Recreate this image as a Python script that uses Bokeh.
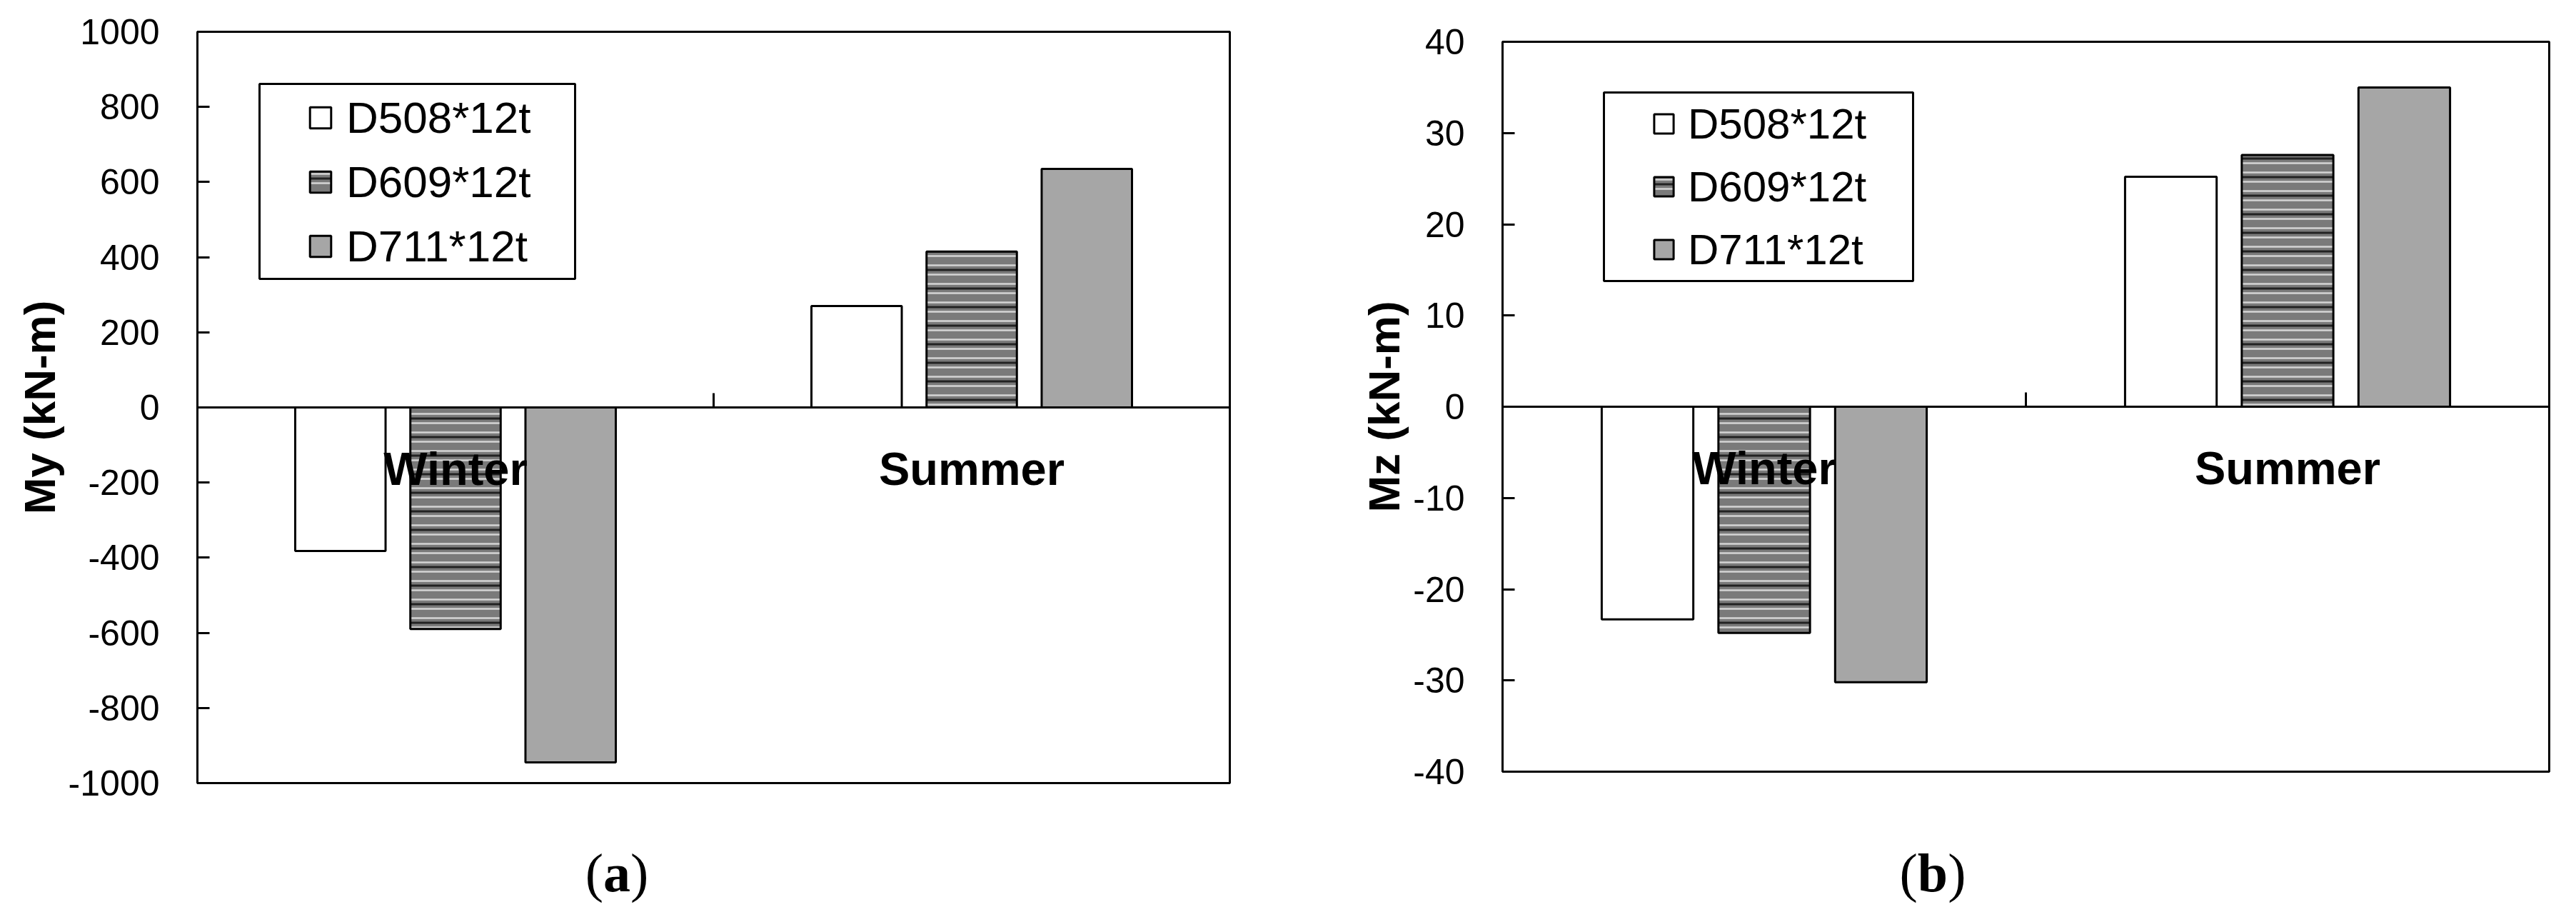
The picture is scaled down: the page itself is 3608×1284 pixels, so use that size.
from bokeh.plotting import figure
from bokeh.models import (FixedTicker, Legend, LegendItem, BoxAnnotation, LabelSet,
                          Range1d, ColumnDataSource, Div)
from bokeh.core.properties import value
from bokeh.layouts import row, column
from bokeh.embed import file_html
from bokeh.resources import INLINE

# ---------------- data ----------------
seasons = ["Winter", "Summer"]
series_names = ["D508*12t", "D609*12t", "D711*12t"]

my_d508 = [-382, 270]
my_d609 = [-590, 415]
my_d711 = [-945, 635]

mz_d508 = [-23.3, 25.2]
mz_d609 = [-24.8, 27.6]
mz_d711 = [-30.2, 35.0]

my_ticks = [-1000, -800, -600, -400, -200, 0, 200, 400, 600, 800, 1000]
my_tick_labels = ["-1000", "-800", "-600", "-400", "-200", "0", "200", "400", "600", "800", "1000"]
mz_ticks = [-40, -30, -20, -10, 0, 10, 20, 30, 40]
mz_tick_labels = ["-40", "-30", "-20", "-10", "0", "10", "20", "30", "40"]

SANS = "Liberation Sans"
SERIF = "Liberation Serif"
BAR_W = 0.175
OFFSETS = [-0.223, 0.0, 0.223]


def make_panel(values, ticks, tick_labels, ylabel, caption, g):
    p = figure(width=g["w"], height=g["h"],
               x_range=Range1d(0, len(seasons)),
               y_range=Range1d(ticks[0], ticks[-1]),
               output_backend="svg", toolbar_location=None,
               min_border_left=g["ml"], min_border_right=g["mr"],
               min_border_top=g["mt"], min_border_bottom=g["mb"])
    p.xgrid.visible = False
    p.ygrid.visible = False
    p.outline_line_color = "black"
    p.outline_line_width = 3
    p.background_fill_color = "white"
    p.border_fill_color = "white"

    centers = [i + 0.5 for i in range(len(seasons))]
    xs = [[c + off for c in centers] for off in OFFSETS]

    r1 = p.vbar(x=xs[0], top=values[0], bottom=0, width=BAR_W,
                fill_color="white", line_color="black", line_width=3)
    r2a = p.vbar(x=xs[1], top=values[1], bottom=0, width=BAR_W,
                 fill_color="#7a7a7a", line_color=None,
                 hatch_pattern="horizontal_line", hatch_color="#222222",
                 hatch_scale=26, hatch_weight=3)
    r2b = p.vbar(x=xs[1], top=values[1], bottom=0, width=BAR_W,
                 fill_alpha=0, line_color="black", line_width=3,
                 hatch_pattern="horizontal_line", hatch_color="#d4d4d4",
                 hatch_scale=13, hatch_weight=2.5)
    r3 = p.vbar(x=xs[2], top=values[2], bottom=0, width=BAR_W,
                fill_color="#a6a6a6", line_color="black", line_width=3)

    # y axis
    ya = p.yaxis[0]
    ya.ticker = FixedTicker(ticks=ticks)
    ya.major_label_overrides = {t: s for t, s in zip(ticks, tick_labels)}
    ya.major_label_text_font = SANS
    ya.major_label_text_font_size = "50px"
    ya.major_label_text_color = "black"
    ya.major_label_standoff = 53
    ya.major_tick_in = 17
    ya.major_tick_out = 0
    ya.major_tick_line_width = 3
    ya.major_tick_line_color = "black"
    ya.minor_tick_line_color = None
    ya.axis_line_width = 3
    ya.axis_line_color = "black"
    ya.axis_label = ylabel
    ya.axis_label_text_font = SANS
    ya.axis_label_text_font_style = "bold"
    ya.axis_label_text_font_size = "62px"
    ya.axis_label_text_color = "black"
    ya.axis_label_standoff = 3

    # x axis line crossing at zero, with a tick between the categories
    xa = p.xaxis[0]
    xa.fixed_location = 0
    xa.ticker = FixedTicker(ticks=[], minor_ticks=[1.0])
    xa.major_tick_in = 0
    xa.major_tick_out = 0
    xa.major_label_standoff = 0
    xa.minor_tick_in = 20
    xa.minor_tick_out = 0
    xa.minor_tick_line_width = 3
    xa.minor_tick_line_color = "black"
    xa.axis_line_width = 3
    xa.axis_line_color = "black"

    # category labels next to the zero line
    cat_src = ColumnDataSource(data=dict(x=centers, y=[0] * len(seasons), text=seasons))
    p.add_layout(LabelSet(x="x", y="y", text="text", source=cat_src, y_offset=-49,
                          text_font=value(SANS), text_font_style="bold",
                          text_font_size=value("65px"),
                          text_align="center", text_baseline="top", text_color="black"))

    # legend frame
    box = BoxAnnotation(left=g["bl"], right=g["br"], top=g["bt"], bottom=g["bb"],
                        left_units="canvas", right_units="canvas",
                        top_units="canvas", bottom_units="canvas",
                        fill_color="white", fill_alpha=1.0,
                        line_color="black", line_width=3, line_alpha=1.0)
    p.add_layout(box)

    legend = Legend(items=[LegendItem(label=series_names[0], renderers=[r1]),
                           LegendItem(label=series_names[1], renderers=[r2a, r2b]),
                           LegendItem(label=series_names[2], renderers=[r3])],
                    location=g["lloc"], orientation="vertical",
                    padding=0, margin=0, spacing=g["lsp"],
                    glyph_width=g["gw"], glyph_height=g["gw"],
                    label_height=g["lh"], label_standoff=g["ls"],
                    label_text_font=SANS, label_text_font_size=g["lfs"],
                    label_text_color="black",
                    border_line_alpha=0, background_fill_alpha=0)
    p.add_layout(legend)

    # caption "(a)" below the chart
    shift = g["cx"] - g["w"] / 2
    cap = Div(text=(f'<div style="position:relative; left:{shift:.0f}px; width:{g["w"]}px; '
                    f'text-align:center; font-family:\'{SERIF}\'; font-size:76px; '
                    f'line-height:100px; color:black; white-space:nowrap;">'
                    f'(<b>{caption}</b>)</div>'),
              width=g["w"], height=100, margin=0)
    return column(p, cap, spacing=0)


# geometry (page origin at top-left of the window)
geo_a = dict(w=1800, h=1172, ml=276, mr=78, mt=44, mb=76,
             bl=363, br=805, bt=117, bb=390,
             lloc=(154, 716), lsp=18, gw=37, lh=72, ls=18, lfs="62px",
             cx=864)
geo_b = dict(w=1792, h=1172, ml=304, mr=22, mt=58, mb=92,
             bl=446, br=879, bt=129, bb=393,
             lloc=(209, 695), lsp=16, gw=34, lh=72, ls=17, lfs="60px",
             cx=907)

pa = make_panel([my_d508, my_d609, my_d711], my_ticks, my_tick_labels, "My (kN-m)", "a", geo_a)
pb = make_panel([mz_d508, mz_d609, mz_d711], mz_ticks, mz_tick_labels, "Mz (kN-m)", "b", geo_b)

layout = row(pa, pb)
open("out.html", "w").write(file_html(layout, INLINE))
